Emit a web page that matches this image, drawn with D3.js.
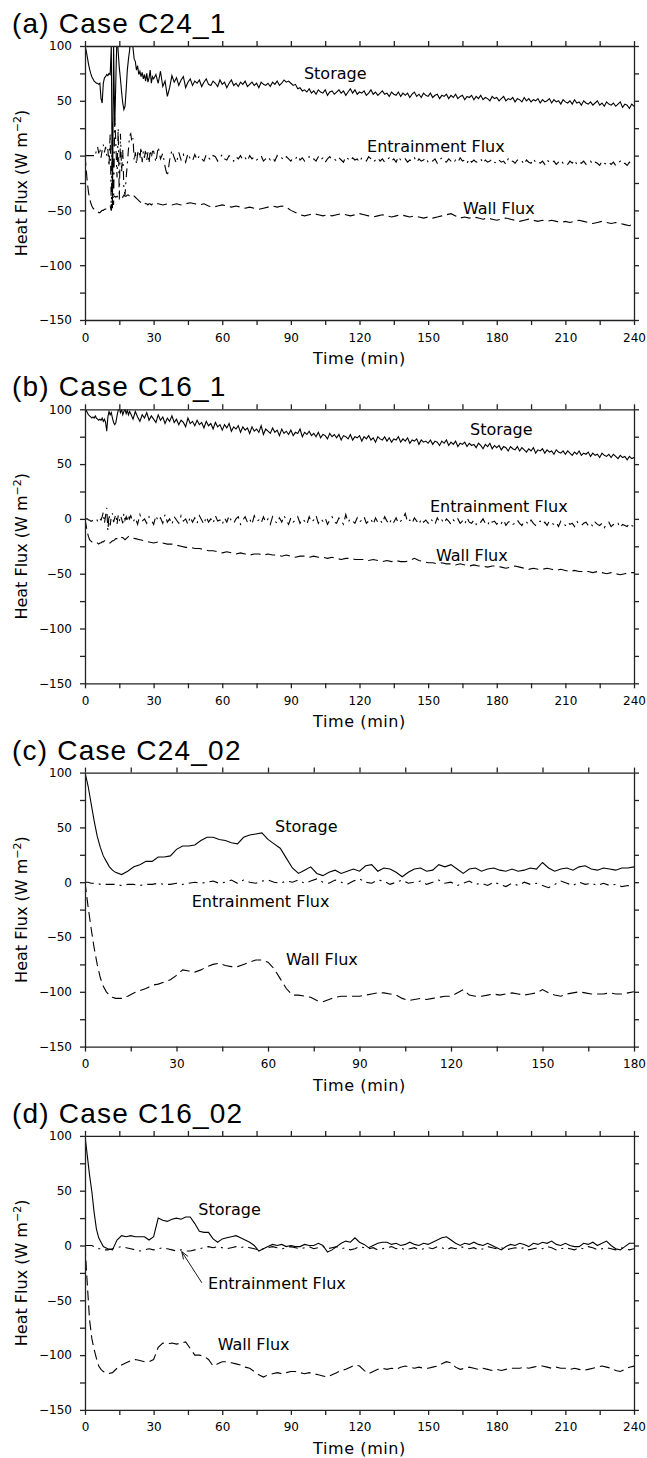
<!DOCTYPE html>
<html>
<head>
<meta charset="utf-8">
<script src="https://cdn.jsdelivr.net/npm/d3@7"></script>
<style>
  html, body { margin: 0; padding: 0; background: #fff; overflow: hidden; }
  svg { display: block; }
  .axis path, .axis line { stroke: #222; stroke-width: 1.3px; }
  .series { fill: none; stroke: #000; stroke-width: 1.1px; }
  .arrow { fill: none; stroke: #000; stroke-width: 0.9px; }
</style>
</head>
<body>
<svg id="chart" width="647" height="1458" viewBox="0 0 647 1458"></svg>
<script>
// Time grids (min): finer steps where the curves are noisy or change fast
const timeA = d3.range(0, 30, 0.5).concat(d3.range(30, 240.5, 1));
const timeAWall = d3.range(0, 30, 0.5).concat(d3.range(30, 240.5, 2));
const timeB = d3.range(0, 20, 0.5).concat(d3.range(20, 240.5, 1));
const timeBWall = d3.range(0, 20, 0.5).concat(d3.range(20, 240.5, 2));
const timeC = d3.range(0, 10, 1).concat(d3.range(10, 180.5, 2));
const timeD = d3.range(0, 10, 1).concat(d3.range(10, 240.5, 2));

// (a) Case C24_1
const storageA = [
  100, 96, 90, 84, 79, 75, 72, 70, 68, 67,
  66, 66, 65, 66, 52, 48, 66, 71, 72, 74,
  73, 75, 74, 100, -48, 100, 26, 70, 112, 95,
  80, 70, 58, 48, 42, 45, 60, 78, 88, 96,
  110, 112, 98, 88, 86, 78, 82, 74, 77, 72,
  76, 70, 74, 68, 75, 67, 71, 78, 66, 72,
  // 30 .. 240, every minute
  70, 74, 66, 77, 63, 68, 54, 62, 73, 67,
  71, 64, 69, 72, 62, 67, 70, 64, 68, 66,
  69, 63, 67, 70, 65, 64, 68, 66, 63, 69,
  65, 67, 62, 66, 69, 64, 66, 63, 67, 65,
  68, 63, 65, 67, 64, 66, 62, 67, 65, 64,
  66, 63, 67, 65, 68, 64, 66, 69, 67, 68,
  66, 64, 65, 61, 62, 59, 60, 58, 61, 57,
  59, 56, 60, 58, 57, 60, 55, 58, 59, 56,
  58, 60, 57, 59, 55, 58, 61, 57, 60, 56,
  58, 57, 59, 55, 57, 60, 56, 58, 55, 57,
  59, 56, 57, 54, 58, 56, 55, 58, 54, 57,
  55, 57, 53, 56, 58, 54, 56, 53, 57, 55,
  54, 57, 53, 55, 56, 52, 55, 54, 56, 52,
  55, 53, 56, 52, 54, 55, 51, 54, 53, 55,
  51, 54, 52, 55, 51, 53, 52, 50, 54, 52,
  53, 50, 52, 54, 50, 52, 51, 53, 49, 52,
  51, 49, 53, 50, 52, 49, 51, 50, 52, 48,
  51, 49, 50, 52, 48, 51, 49, 50, 47, 51,
  49, 48, 50, 47, 51, 48, 49, 46, 50, 48,
  47, 49, 46, 48, 50, 46, 48, 45, 49, 47,
  46, 48, 45, 47, 49, 44, 47, 46, 43, 47,
  45
];
const entrainmentA = [
  0, 0, 0, 0, 0, 0, 0, 0, 0, -1,
  6, 8, 2, 7, -2, 5, 10, 3, 8, 0,
  6, -10, 20, -50, 30, -45, 35, 10, -20, 25,
  -40, 20, -15, 5, -30, -36, -20, -8, 6, 18,
  20, 12, 16, -5, 3, -8, 2, 5, -3, 8,
  -6, 4, -2, 6, -4, 3, -7, 5, -2, 4,
  // 30 .. 240, every minute
  4, -6, 8, -3, 2, -10, -19, -4, 5, -2,
  -7, 3, -4, 1, -6, 2, -3, -5, 1, -4,
  0, -3, -5, 1, -2, -4, 0, -1, -5, -2,
  1, -3, -4, 0, -2, -5, -1, -3, 0, -4,
  -2, -5, 0, -3, -1, -4, -2, 0, -5, -3,
  -1, -4, -2, -5, 0, -3, -2, -4, -1, -3,
  -5, -2, -3, 0, -4, -2, -5, -3, -1, -4,
  -3, -5, -1, -4, -2, -6, -3, -1, -4, -3,
  -5, -2, -4, -6, -1, -3, -5, -2, -4, -3,
  -6, -2, -4, -5, -1, -3, -6, -4, -2, -5,
  -3, -6, -4, -2, -5, -3, -6, -1, -4, -5,
  -3, -6, -4, -5, -2, -6, -3, -5, -4, -2,
  -6, -4, -5, -3, -7, -4, -2, -5, -6, -3,
  -5, -7, -4, -6, -2, -5, -4, -7, -3, -6,
  -4, -6, -5, -3, -7, -4, -6, -5, -3, -6,
  -7, -4, -6, -5, -8, -3, -6, -5, -7, -4,
  -6, -5, -8, -4, -6, -7, -3, -6, -5, -7,
  -5, -8, -4, -6, -7, -5, -8, -6, -4, -7,
  -6, -8, -5, -7, -4, -8, -6, -7, -5, -8,
  -7, -5, -8, -6, -7, -9, -5, -7, -8, -6,
  -8, -6, -9, -7, -5, -8, -7, -9, -6, -8,
  -7
];
const wallA = [
  0, -12, -24, -33, -39, -43, -46, -48, -49, -50,
  -51, -51, -52, -52, -51, -50, -50, -49, -49, -48,
  -48, -47, -46, -50, -38, -38, -37, -38, -37, -38,
  -38, -37, -37, -38, -36, -37, -37, -36, -36, -37,
  -37, -36, -36, -37, -38, -39, -40, -41, -42, -43,
  -43, -44, -43, -44, -44, -45, -44, -44, -45, -44,
  // 30 .. 240, every 2 min
  -43, -44, -45, -44, -45, -44, -45, -44, -43, -44,
  -45, -44, -46, -47, -46, -45, -46, -47, -46, -47,
  -48, -47, -48, -49, -48, -47, -46, -47, -46, -47,
  -50, -52, -54, -55, -54, -53, -54, -55, -54, -55,
  -54, -53, -54, -55, -54, -53, -54, -55, -56, -55,
  -54, -55, -56, -55, -54, -55, -56, -55, -56, -57,
  -56, -57, -56, -55, -54, -53, -55, -57, -56, -57,
  -56, -57, -58, -57, -58, -59, -58, -57, -58, -59,
  -60, -59, -58, -59, -60, -59, -60, -59, -60, -61,
  -60, -61, -60, -59, -60, -61, -62, -61, -60, -61,
  -62, -61, -62, -63, -64, -62
];

// (b) Case C16_1
const storageB = [
  100, 99, 97, 95, 94, 93, 92, 93, 92, 94,
  92, 91, 90, 91, 90, 92, 89, 91, 88, 80,
  93, 98, 95, 97, 92, 88, 86, 88, 94, 99,
  101, 97, 100, 95, 98, 100, 96, 99, 95, 98,
  // 20 .. 240, every minute
  96, 91, 98, 93, 89, 95, 92, 97, 90, 94,
  91, 88, 95, 90, 93, 87, 92, 89, 94, 88,
  91, 86, 90, 88, 84, 92, 87, 89, 85, 90,
  86, 88, 83, 89, 85, 87, 82, 88, 84, 86,
  81, 86, 83, 87, 80, 84, 82, 85, 79, 84,
  81, 83, 78, 84, 80, 82, 79, 85, 77, 82,
  80, 78, 83, 79, 81, 76, 82, 78, 80, 77,
  81, 76, 79, 78, 82, 75, 79, 77, 80, 76,
  78, 75, 79, 74, 77, 76, 73, 78, 75, 77,
  74, 77, 72, 76, 75, 73, 77, 72, 75, 74,
  76, 71, 75, 73, 76, 72, 74, 70, 75, 73,
  72, 75, 71, 74, 70, 73, 72, 75, 70, 73,
  71, 74, 69, 72, 71, 73, 68, 72, 70, 71,
  69, 72, 68, 71, 70, 67, 71, 69, 72, 67,
  70, 68, 71, 66, 69, 68, 70, 66, 69, 67,
  68, 65, 69, 67, 64, 68, 66, 69, 64, 67,
  65, 67, 63, 66, 65, 62, 66, 64, 63, 66,
  62, 65, 63, 61, 64, 62, 65, 60, 63, 62,
  64, 60, 63, 61, 62, 59, 63, 61, 60, 62,
  59, 62, 60, 58, 61, 59, 62, 58, 60, 59,
  61, 57, 60, 58, 59, 56, 60, 58, 57, 59,
  56, 59, 57, 55, 58, 56, 57, 54, 57, 55,
  56
];
const entrainmentB = [
  0, 0, 0, -1, -1, -2, -2, -1, -1, -1,
  0, -2, -3, 0, -1, 2, 6, -4, 3, 10,
  -11, 4, -6, 2, 5, -3, 1, 4, -5, 3,
  -2, 3, 0, -4, 5, -1, 2, -3, 4, 0,
  // 20 .. 240, every minute
  3, -3, 1, -5, 4, -2, 0, -4, 2, -1,
  -5, 3, -2, 1, -4, 4, -3, 0, -5, 2,
  -1, -4, 3, -2, 0, -5, 2, -3, 1, -4,
  3, -1, -5, 2, -3, 0, -4, 3, -2, -1,
  -5, 1, -3, 3, -2, -4, 0, 2, -5, -1,
  2, -3, 0, -5, 3, -2, -1, -4, 2, -3,
  0, -5, 2, -2, -4, 1, -3, 3, -1, -5,
  1, -3, -1, 2, -4, 0, -2, -5, 2, -3,
  -1, 3, -4, 0, -2, 1, -5, -1, 2, -3,
  -4, 1, -2, -5, 4, -3, 0, -2, -4, 1,
  -3, -1, 2, -4, -2, 0, -5, 1, -3, -1,
  -4, 2, -2, -5, 0, -3, 1, -4, -2, 0,
  5, -3, -1, -4, 1, -2, -5, 0, -3, -1,
  -4, 0, -2, -5, 1, -3, -1, -4, 0, -2,
  -5, -1, -3, 0, -4, -2, -5, 1, -3, -4,
  -1, -5, -2, -3, 0, -4, -6, -1, -3, -2,
  -5, -2, -4, -1, -6, -3, -2, -5, -4, -1,
  -4, -6, -2, -3, -5, -1, -4, -6, -3, -2,
  -5, -3, -6, -2, -4, -5, -3, -7, -2, -4,
  -6, -3, -5, -4, -7, -2, -5, -6, -4, -3,
  -6, -4, -7, -3, -5, -6, -4, -8, -5, -3,
  -7, -5, -6, -4, -8, -5, -6, -7, -4, -6,
  -7
];
const wallB = [
  0, -6, -12, -16, -19, -20, -21, -21, -22, -22,
  -22, -22, -23, -22, -22, -21, -21, -20, -20, -21,
  -21, -22, -22, -21, -20, -20, -19, -18, -18, -17,
  -17, -16, -17, -17, -18, -19, -18, -17, -16, -17,
  // 20 .. 240, every 2 min
  -17, -18, -19, -20, -21, -22, -21, -22, -23, -23,
  -24, -25, -26, -26, -27, -27, -28, -29, -29, -30,
  -31, -30, -31, -32, -31, -32, -33, -32, -32, -33,
  -32, -33, -33, -34, -33, -34, -35, -34, -34, -35,
  -34, -35, -35, -36, -35, -36, -37, -36, -36, -37,
  -37, -37, -38, -37, -38, -39, -38, -39, -38, -39,
  -39, -38, -36, -38, -39, -40, -40, -41, -40, -41,
  -41, -42, -41, -42, -43, -42, -43, -43, -44, -43,
  -43, -44, -45, -44, -43, -44, -45, -46, -45, -46,
  -46, -45, -46, -47, -46, -47, -48, -47, -48, -48,
  -48, -49, -48, -49, -50, -49, -50, -51, -50, -49,
  -49
];

// (c) Case C24_02
const storageC = [
  100, 88, 72, 56, 42, 32, 24, 19, 14, 11,
  // 10 .. 180
  9, 7, 10, 14, 16, 19, 19, 23, 23, 24,
  30, 33, 33, 34, 38, 41, 41, 39, 38, 36,
  35, 41, 43, 44, 45, 39, 35, 31, 22, 13,
  8, 11, 14, 8, 6, 9, 11, 8, 10, 12,
  10, 15, 16, 10, 13, 12, 9, 5, 9, 12,
  13, 10, 11, 16, 14, 16, 12, 8, 12, 13,
  10, 12, 13, 11, 10, 12, 10, 11, 13, 12,
  18, 13, 10, 12, 13, 11, 14, 15, 12, 11,
  13, 12, 11, 13, 13, 14
];
const entrainmentC = [
  0, 0, -1, -1, -1, -2, -2, -2, -2, -2,
  // 10 .. 180
  -2, -3, -2, -2, -3, -2, -2, -1, -2, -2,
  -1, -2, -1, 0, -1, 0, 1, -1, 0, 2,
  -1, 2, 0, -1, 1, 2, 0, -1, 1, 0,
  2, -1, 1, 3, 0, -1, 2, 0, -2, 1,
  3, 0, -1, 2, 1, -2, 0, 2, -1, 0,
  1, -2, 0, 2, -1, 0, -3, -1, 1, -2,
  -1, -3, 0, -2, -4, -1, -3, 0, -2, -1,
  -3, -5, -2, 1, -1, -3, 0, -2, -1, -3,
  -1, -3, -2, -4, -3, -4
];
const wallC = [
  0, -22, -42, -60, -75, -87, -95, -100, -103, -105,
  // 10 .. 180
  -106, -106, -104, -101, -99, -97, -94, -93, -91, -89,
  -85, -80, -81, -82, -80, -77, -75, -74, -76, -77,
  -77, -75, -73, -71, -71, -73, -79, -88, -97, -103,
  -103, -104, -105, -108, -109, -107, -105, -104, -104, -104,
  -104, -103, -102, -101, -101, -102, -103, -106, -108, -107,
  -106, -107, -106, -105, -104, -104, -101, -98, -103, -104,
  -104, -103, -102, -103, -102, -101, -102, -103, -102, -101,
  -98, -101, -103, -104, -102, -101, -100, -101, -102, -102,
  -102, -101, -102, -102, -101, -100
];

// (d) Case C16_02
const storageD = [
  100, 82, 64, 49, 30, 15, 7, 3, -1, -2,
  // 10 .. 240
  -3, -4, 5, 9, 8, 9, 8, 8, 8, 5,
  8, 25, 23, 22, 24, 25, 24, 26, 26, 20,
  13, 12, 12, 6, 3, 6, 7, 8, 9, 7,
  5, 3, 0, -5, -3, -1, 1, 0, 1, -1,
  0, -1, -1, 1, 0, 0, 2, 0, -6, -4,
  -1, 2, 4, 3, 7, 3, 1, -2, 0, 2,
  3, 3, 1, 2, 0, 1, 3, 1, 0, 2,
  1, 3, 5, 7, 8, 5, 2, 0, 2, 1,
  3, 1, 0, 2, 0, -2, -4, -1, 1, 0,
  2, 1, -1, 2, 1, 3, 2, 4, 1, 0,
  2, 0, -1, -1, 2, 1, 3, 0, 2, 4,
  0, -3, -4, -1, 2, 2
];
const entrainmentD = [
  0, 0, 0, 0, -1, -2, -3, -3, -4, -4,
  // 10 .. 240
  -4, -3, -2, -1, -2, -3, -4, -5, -4, -3,
  -4, -3, -2, -3, -4, -5, -4, -5, -5, -4,
  -3, -2, -1, -2, -1, -2, -3, -2, -1, -2,
  -1, -2, -3, -4, -3, -2, -1, -2, -3, -2,
  -1, -2, -3, -2, -1, -3, -2, -1, -3, -2,
  -1, -3, -2, -4, -3, -1, -2, -3, -2, -4,
  -3, -2, -1, -3, -2, -4, -3, -2, -4, -3,
  -2, -3, -1, -2, -4, -2, -3, -1, -2, -3,
  -2, -4, -3, -1, -2, -3, -2, -4, -3, -2,
  -3, -2, -4, -3, -2, -3, -1, -2, -4, -3,
  -2, -3, -4, -2, -3, -1, -2, -4, -3, -2,
  -3, -4, -2, -3, -4, -3
];
const wallD = [
  0, -35, -68, -85, -95, -103, -110, -113, -115, -116,
  // 10 .. 240
  -117, -116, -112, -109, -107, -105, -104, -105, -106, -106,
  -104, -93, -89, -90, -89, -90, -89, -88, -94, -100,
  -100, -101, -104, -110, -108, -106, -106, -107, -108, -109,
  -111, -112, -115, -118, -120, -118, -117, -116, -117, -116,
  -115, -115, -116, -117, -116, -117, -118, -119, -120, -118,
  -116, -114, -113, -111, -109, -110, -114, -117, -115, -113,
  -112, -113, -112, -113, -111, -110, -111, -112, -111, -112,
  -112, -111, -110, -108, -106, -107, -111, -113, -112, -111,
  -112, -113, -112, -113, -114, -113, -114, -113, -112, -112,
  -112, -111, -112, -111, -110, -110, -111, -112, -111, -112,
  -112, -113, -112, -113, -114, -113, -112, -111, -110, -111,
  -112, -114, -115, -113, -111, -110
];

// Axis ticks
const yTicks = d3.range(-150, 101, 25);
const yDomain = [-150, 100];

// Panels (series order: storage, entrainment, wall)
const panels = [
  {
    title: '(a) Case C24_1', xMax: 240,
    series: [
      { time: timeA, values: storageA },
      { time: timeA, values: entrainmentA },
      { time: timeAWall, values: wallA },
    ],
    labels: [
      { text: 'Storage', t: 95.7, v: 70 },
      { text: 'Entrainment Flux', t: 123.3, v: 3.3 },
      { text: 'Wall Flux', t: 165.2, v: -53.3 },
    ],
  },
  {
    title: '(b) Case C16_1', xMax: 240,
    series: [
      { time: timeB, values: storageB },
      { time: timeB, values: entrainmentB },
      { time: timeBWall, values: wallB },
    ],
    labels: [
      { text: 'Storage', t: 168.3, v: 76.7 },
      { text: 'Entrainment Flux', t: 150.8, v: 6.5 },
      { text: 'Wall Flux', t: 153.4, v: -38.2 },
    ],
  },
  {
    title: '(c) Case C24_02', xMax: 180,
    series: [
      { time: timeC, values: storageC },
      { time: timeC, values: entrainmentC },
      { time: timeC, values: wallC },
    ],
    labels: [
      { text: 'Storage', t: 62.3, v: 45.5 },
      { text: 'Entrainment Flux', t: 35, v: -22.9 },
      { text: 'Wall Flux', t: 65.9, v: -75.8 },
    ],
  },
  {
    title: '(d) Case C16_02', xMax: 240,
    series: [
      { time: timeD, values: storageD },
      { time: timeD, values: entrainmentD },
      { time: timeD, values: wallD },
    ],
    labels: [
      { text: 'Storage', t: 49.5, v: 27.9 },
      { text: 'Entrainment Flux', t: 53.8, v: -39.6 },
      { text: 'Wall Flux', t: 58, v: -95.3 },
    ],
    arrow: { from: [51.1, -34.1], to: [42.3, -5.6] },
  },
];

// Line styles: storage solid, entrainment dash-dot, wall dashed
const dashes = [null, '9,5,2,5', '10,5'];

// Fonts
const labelFont = 'DejaVu Sans, sans-serif';
const titleFont = 'Liberation Sans, Arial, sans-serif';

// Dimensions
const margins = { left: 85, top: 46 };
const innerWidth = 549;
const innerHeight = 274;
const panelStep = 363.3;

const svg = d3.select('#chart');
const fmt = d3.format('d');

// Restyle axis text and drop the empty labels of minor / mirrored ticks
const styleAxis = (axis) => {
  axis.attr('font-family', labelFont).attr('font-size', 12);
  axis.selectAll('text')
    .filter(function () { return !this.textContent; })
    .remove();
  axis.selectAll('text').attr('fill', '#000');
};

function drawPanel(panel, index) {
  const top = margins.top + index * panelStep;
  const g = svg.append('g')
    .attr('transform', `translate(${margins.left}, ${top})`);

  // Set scales
  const x = d3.scaleLinear().domain([0, panel.xMax]).range([0, innerWidth]);
  const y = d3.scaleLinear().domain(yDomain).range([innerHeight, 0]);
  const xTicks = d3.range(0, panel.xMax + 1, 15);

  // Clip the data to the frame
  const clipId = `clip-${index}`;
  g.append('clipPath').attr('id', clipId)
    .append('rect').attr('width', innerWidth).attr('height', innerHeight);

  // Data
  const line = d3.line()
    .x((d) => x(d[0]))
    .y((d) => y(d[1]));

  g.append('g')
    .attr('clip-path', `url(#${clipId})`)
    .selectAll('path.series')
    .data(panel.series)
    .join('path')
    .attr('class', 'series')
    .attr('stroke-dasharray', (d, i) => dashes[i])
    .attr('d', (d) => line(d3.zip(d.time, d.values)));

  // Axes
  g.append('g')
    .attr('class', 'axis')
    .attr('transform', `translate(0, ${innerHeight})`)
    .call(d3.axisBottom(x).tickValues(xTicks)
      .tickFormat((d) => (d % 30 ? '' : fmt(d)))
      .tickSize(5).tickPadding(8).tickSizeOuter(0))
    .call(styleAxis);

  g.append('g')
    .attr('class', 'axis')
    .call(d3.axisTop(x).tickValues(xTicks).tickFormat('')
      .tickSize(5).tickSizeOuter(0))
    .call(styleAxis);

  g.append('g')
    .attr('class', 'axis')
    .call(d3.axisLeft(y).tickValues(yTicks)
      .tickFormat((d) => (d % 50 ? '' : fmt(d)))
      .tickSize(5).tickPadding(8).tickSizeOuter(0))
    .call(styleAxis);

  g.append('g')
    .attr('class', 'axis')
    .attr('transform', `translate(${innerWidth}, 0)`)
    .call(d3.axisRight(y).tickValues(yTicks).tickFormat('')
      .tickSize(5).tickSizeOuter(0))
    .call(styleAxis);

  // Titles
  svg.append('text')
    .attr('x', 12)
    .attr('y', top - 13)
    .attr('font-family', titleFont)
    .attr('font-size', 28)
    .attr('letter-spacing', 1.2)
    .text(panel.title);

  svg.append('text')
    .attr('x', margins.left + innerWidth / 2)
    .attr('y', top + 318)
    .attr('font-family', labelFont)
    .attr('font-size', 16)
    .attr('text-anchor', 'middle')
    .attr('letter-spacing', 0.6)
    .text('Time (min)');

  const yLabel = svg.append('text')
    .attr('transform', `translate(27, ${top + innerHeight / 2}) rotate(-90)`)
    .attr('font-family', labelFont)
    .attr('font-size', 16)
    .attr('text-anchor', 'middle');
  yLabel.append('tspan').text('Heat Flux (W m');
  yLabel.append('tspan').attr('dy', -6).attr('font-size', 11).text('\u22122');
  yLabel.append('tspan').attr('dy', 6).text(')');

  // Curve labels
  g.selectAll('text.curve')
    .data(panel.labels)
    .join('text')
    .attr('class', 'curve')
    .attr('font-family', labelFont)
    .attr('font-size', 16)
    .attr('x', (d) => x(d.t))
    .attr('y', (d) => y(d.v))
    .text((d) => d.text);

  // Arrow pointing at the entrainment curve
  if (panel.arrow) {
    const [x1, y1] = [x(panel.arrow.from[0]), y(panel.arrow.from[1])];
    const [x2, y2] = [x(panel.arrow.to[0]), y(panel.arrow.to[1])];
    const angle = Math.atan2(y2 - y1, x2 - x1);
    const head = 8;
    const spread = 0.35;
    const barb = (a) => [x2 - head * Math.cos(angle + a), y2 - head * Math.sin(angle + a)];
    const path = d3.path();
    path.moveTo(x1, y1);
    path.lineTo(x2, y2);
    path.moveTo(...barb(spread));
    path.lineTo(x2, y2);
    path.lineTo(...barb(-spread));
    g.append('path').attr('class', 'arrow').attr('d', path.toString());
  }
}

panels.forEach(drawPanel);
</script>
</body>
</html>
